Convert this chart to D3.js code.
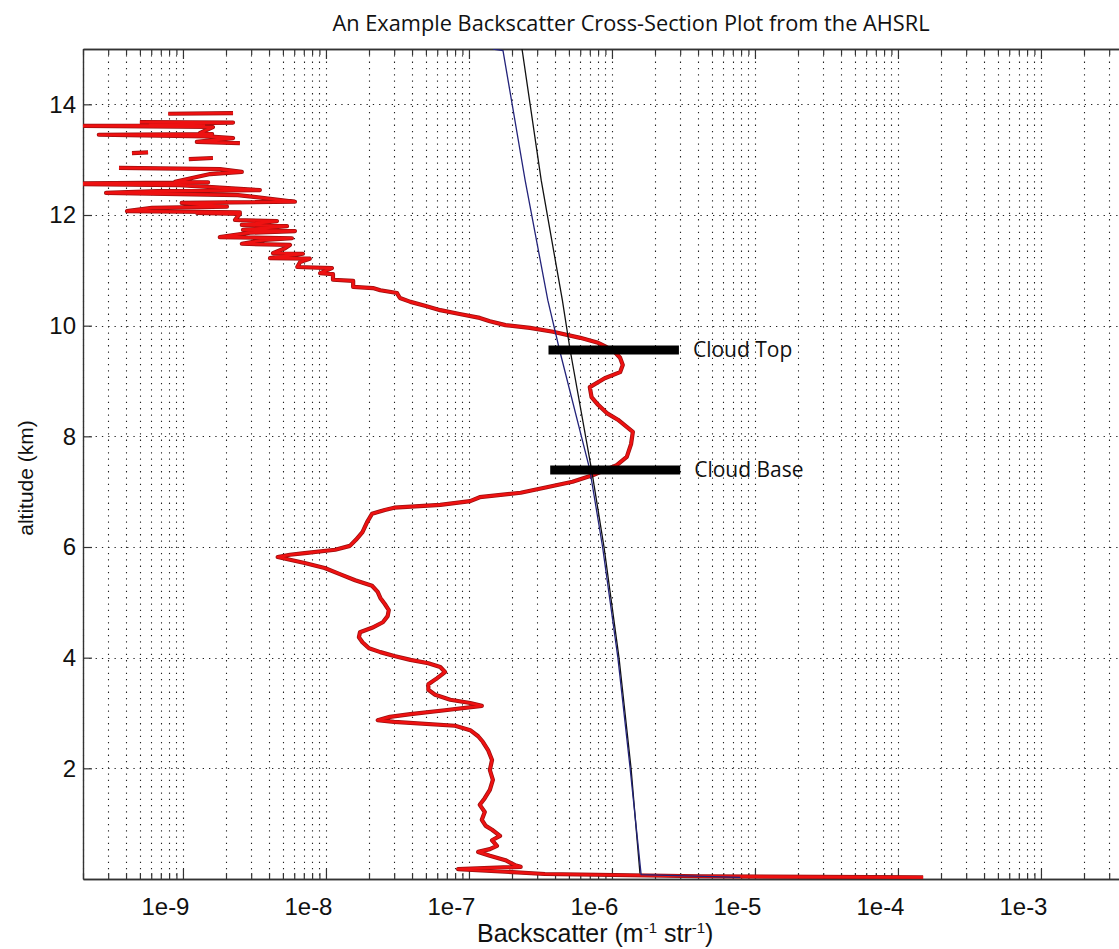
<!DOCTYPE html>
<html><head><meta charset="utf-8">
<script src="https://cdn.jsdelivr.net/npm/d3@7"></script>
<style>
body{margin:0;background:#fff;}
svg{display:block;background:#fff;}
</style></head>
<body>
<script>
// ---------- data ----------
const titleText = "An Example Backscatter Cross-Section Plot from the AHSRL";
const yLabelText = "altitude (km)";
const xTickValues = [1e-9, 1e-8, 1e-7, 1e-6, 1e-5, 1e-4, 1e-3];
const xTickLabels = ["1e-9", "1e-8", "1e-7", "1e-6", "1e-5", "1e-4", "1e-3"];
const yTickValues = [2, 4, 6, 8, 10, 12, 14];
const xDomain = [2e-10, 1e-2];
const yDomain = [0, 15];

// measured backscatter profile, lower part: [altitude km, backscatter m^-1 sr^-1]
const redLower = [
 [0.03,1.5e-4],[0.05,4.1e-6],[0.09,3.4e-7],[0.18,8.4e-8],[0.22,2.3e-7],[0.25,2.1e-7],[0.34,1.8e-7],
 [0.42,1.4e-7],[0.49,1.16e-7],[0.54,1.4e-7],[0.60,1.57e-7],[0.70,1.45e-7],[0.78,1.65e-7],[0.89,1.45e-7],
 [0.96,1.31e-7],[1.07,1.23e-7],[1.21,1.29e-7],[1.34,1.19e-7],[1.46,1.29e-7],[1.61,1.4e-7],[1.79,1.47e-7],
 [1.97,1.4e-7],[2.15,1.45e-7],[2.33,1.36e-7],[2.48,1.25e-7],[2.58,1.16e-7],[2.69,1.02e-7],[2.77,8.0e-8],
 [2.84,3.0e-8],[2.87,2.3e-8],[2.93,2.8e-8],[2.98,3.9e-8],[3.05,6.8e-8],[3.13,1.23e-7],[3.18,1.02e-7],
 [3.24,7.4e-8],[3.33,5.8e-8],[3.42,5.2e-8],[3.52,5.2e-8],[3.63,6.0e-8],[3.74,6.8e-8],[3.83,6.3e-8],
 [3.90,5.2e-8],[3.96,3.9e-8],[4.03,3.0e-8],[4.10,2.4e-8],[4.17,2.0e-8],[4.28,1.8e-8],[4.37,1.7e-8],
 [4.46,1.73e-8],[4.54,2.1e-8],[4.64,2.5e-8],[4.75,2.7e-8],[4.86,2.75e-8],[4.97,2.58e-8],[5.08,2.4e-8],
 [5.19,2.3e-8],[5.30,2.1e-8],[5.40,1.6e-8],[5.51,1.25e-8],[5.62,9.8e-9],[5.71,7.1e-9],[5.77,5.6e-9],
 [5.82,4.6e-9],[5.86,5.6e-9],[5.89,7.1e-9],[5.95,1.16e-8],[6.02,1.47e-8],[6.13,1.62e-8],[6.27,1.8e-8],
 [6.45,1.94e-8],[6.60,2.1e-8],[6.67,2.58e-8],[6.71,3.0e-8],[6.76,6.3e-8],[6.83,1.02e-7],[6.90,1.19e-7],
 [6.98,2.3e-7],[7.08,3.5e-7],[7.18,5.3e-7],[7.30,7.4e-7],[7.39,8.9e-7],[7.48,1.08e-6],[7.63,1.27e-6],
 [7.86,1.36e-6],[8.08,1.40e-6],[8.30,1.10e-6],[8.42,9.2e-7],[8.57,8.0e-7],[8.71,7.2e-7],[8.89,7.0e-7],
 [9.05,8.9e-7],[9.16,1.14e-6],[9.29,1.19e-6],[9.42,1.14e-6],[9.52,1.05e-6],[9.63,8.9e-7],[9.69,8.0e-7],
 [9.78,6.0e-7],[9.89,3.87e-7],[9.96,2.67e-7],[10.01,1.8e-7],[10.08,1.4e-7],[10.14,1.19e-7],[10.21,8.6e-8],
 [10.28,6.3e-8],[10.36,4.92e-8],[10.43,3.9e-8],[10.50,3.29e-8],[10.55,3.2e-8],[10.59,3.14e-8]
];
// measured backscatter profile, noisy upper part (null = missing sample)
const redUpper = [
 [10.59,3.14e-8],[10.64,2.4e-8],[10.68,2.13e-8],[10.70,1.55e-8],[10.81,1.55e-8],[10.83,1.12e-8],[10.93,1.12e-8],
 [10.95,9.1e-9],[11.04,1.1e-8],[11.06,6.3e-9],[11.15,6.6e-9],[11.21,7.7e-9],[11.22,4.06e-9],[11.30,6.9e-9],
 [11.31,4.26e-9],[11.40,5.17e-9],[11.46,5.6e-9],[11.48,2.58e-9],[11.55,3.74e-9],[11.58,5.78e-9],[11.60,1.81e-9],
 [11.68,2.94e-9],[11.71,6.07e-9],[11.73,2.63e-9],[11.80,5.34e-9],[11.82,2.58e-9],[11.89,4.54e-9],[11.91,2.31e-9],
 [12.02,2.5e-9],[12.04,1.25e-9],[12.05,2.5e-9],[12.07,4.06e-10],[12.13,6.07e-10],[12.15,2.03e-9],[12.22,9.8e-10],
 [12.24,6.07e-9],[12.36,2.42e-9],[12.40,2.9e-10],[12.43,6.68e-10],[12.45,3.45e-9],[12.54,9.5e-10],[12.56,1.62e-10],
 [12.57,1.9e-10],[12.59,1.5e-9],[12.60,8.8e-10],[12.74,1.55e-9],[12.78,2.58e-9],[12.83,1.81e-9],[12.85,3.57e-10],
 [12.90,null],[13.01,1.10e-9],[13.03,1.62e-9],[13.08,null],[13.12,4.4e-10],[13.13,5.7e-10],[13.20,null],
 [13.30,2.5e-9],[13.32,1.25e-9],[13.39,2.24e-9],[13.42,1.47e-9],[13.45,2.58e-10],[13.46,1.6e-9],[13.48,1.31e-9],
 [13.59,1.62e-9],[13.61,1.6e-10],[13.62,1.4e-9],[13.65,5.9e-10],[13.67,2.24e-9],[13.68,5.0e-10],[13.75,null],
 [13.83,7.9e-10],[13.84,2.24e-9]
];
// modelled molecular backscatter profiles
const blackAlt  = [0.1, 2, 4, 6, 7.4, 9.56, 10.46, 12.63, 15];
const blackBeta = [1.57e-6, 1.36e-6, 1.12e-6, 8.8e-7, 7.2e-7, 5.1e-7, 4.5e-7, 3.2e-7, 2.35e-7];
const blueAlt   = [0.03, 0.08, 2, 4, 6, 7.4, 9.56, 10.46, 12.63, 14.97, 15];
const blueBeta  = [7.9e-6, 1.6e-6, 1.34e-6, 1.1e-6, 8.6e-7, 7.0e-7, 4.3e-7, 3.56e-7, 2.47e-7, 1.73e-7, 1.47e-7];
// cloud markers
const cloudNames = ["Cloud Top", "Cloud Base"];
const cloudAlt   = [9.56, 7.39];
const cloudFrom  = [3.6e-7, 3.7e-7];
const cloudTo    = [2.94e-6, 3.0e-6];

// ---------- layout ----------
const W = 1119, H = 949;
const mLeft = 83, mTop = 49, mBottom = 879;
const pxPerDecade = 143;
const mRight = mLeft + pxPerDecade * Math.log10(xDomain[1] / xDomain[0]);

const svg = d3.select("body").append("svg").attr("width", W).attr("height", H);

const x = d3.scaleLog().domain(xDomain).range([mLeft, mRight]);
const y = d3.scaleLinear().domain(yDomain).range([mBottom, mTop]);

svg.append("defs").append("clipPath").attr("id", "clip")
  .append("rect").attr("x", mLeft).attr("y", mTop).attr("width", mRight - mLeft).attr("height", mBottom - mTop);

// grid
const allTicks = x.ticks();
const grid = svg.append("g").attr("stroke", "#222").attr("stroke-width", 1.1)
  .attr("stroke-dasharray", "1.3,5");
grid.selectAll(".vg").data(allTicks).enter().append("line")
  .attr("x1", d => Math.round(x(d)) + 0.5).attr("x2", d => Math.round(x(d)) + 0.5)
  .attr("y1", mTop).attr("y2", mBottom);
grid.selectAll(".hg").data(yTickValues).enter().append("line")
  .attr("x1", mLeft).attr("x2", mRight)
  .attr("y1", d => Math.round(y(d)) + 0.5).attr("y2", d => Math.round(y(d)) + 0.5);

// axes
const minorTicks = allTicks.filter(t => !xTickValues.some(m => Math.abs(Math.log10(m) - Math.log10(t)) < 1e-6));
const axisColor = "#333";
function styleAxis(g){
  g.selectAll(".domain").attr("stroke", axisColor).attr("stroke-width", 1.4);
  g.selectAll(".tick line").attr("stroke", axisColor).attr("stroke-width", 1.2);
}
const xMajor = svg.append("g").attr("transform", `translate(0,${mBottom})`)
  .call(d3.axisBottom(x).tickValues(xTickValues).tickSize(-10).tickSizeOuter(0).tickPadding(19)
    .tickFormat((d, i) => xTickLabels[i]));
xMajor.selectAll("text").attr("dx", -18).attr("fill", "#111")
  .style("font-family", "'Liberation Sans', Arial, sans-serif").style("font-size", "24px");
styleAxis(xMajor);
const xMinor = svg.append("g").attr("transform", `translate(0,${mBottom})`)
  .call(d3.axisBottom(x).tickValues(minorTicks).tickSize(-6).tickSizeOuter(0).tickFormat(""));
styleAxis(xMinor);
const xTopMajor = svg.append("g").attr("transform", `translate(0,${mTop})`)
  .call(d3.axisTop(x).tickValues(xTickValues).tickSize(-10).tickSizeOuter(0).tickFormat(""));
styleAxis(xTopMajor);
const xTopMinor = svg.append("g").attr("transform", `translate(0,${mTop})`)
  .call(d3.axisTop(x).tickValues(minorTicks).tickSize(-6).tickSizeOuter(0).tickFormat(""));
styleAxis(xTopMinor);
const yAx = svg.append("g").attr("transform", `translate(${mLeft},0)`)
  .call(d3.axisLeft(y).tickValues(yTickValues).tickSize(-9).tickSizeOuter(0).tickPadding(7));
yAx.selectAll("text").attr("fill", "#111")
  .style("font-family", "'Liberation Sans', Arial, sans-serif").style("font-size", "24px");
styleAxis(yAx);

// plot lines
const plot = svg.append("g").attr("clip-path", "url(#clip)");
const lineFn = d3.line().defined(d => d[1] != null).x(d => x(d[1])).y(d => y(d[0]));
const redAll = redLower.concat(redUpper.slice(1));
plot.append("path").datum(redAll).attr("d", lineFn)
  .attr("fill", "none").attr("stroke", "#9a0f0f").attr("stroke-width", 4.2).attr("stroke-linejoin", "round");
plot.append("path").datum(redAll).attr("d", lineFn)
  .attr("fill", "none").attr("stroke", "#ee1111").attr("stroke-width", 2.7).attr("stroke-linejoin", "round");

plot.append("path").datum(blackAlt.map((a, i) => [a, blackBeta[i]])).attr("d", lineFn)
  .attr("fill", "none").attr("stroke", "#111").attr("stroke-width", 1.3);
plot.append("path").datum(blueAlt.map((a, i) => [a, blueBeta[i]])).attr("d", lineFn)
  .attr("fill", "none").attr("stroke", "#23237a").attr("stroke-width", 1.3);

// cloud markers
cloudNames.forEach((name, i) => {
  svg.append("line")
    .attr("x1", x(cloudFrom[i])).attr("x2", x(cloudTo[i]))
    .attr("y1", y(cloudAlt[i])).attr("y2", y(cloudAlt[i]))
    .attr("stroke", "#000").attr("stroke-width", 9);
  svg.append("text").attr("x", x(cloudTo[i]) + 14).attr("y", y(cloudAlt[i]) + 7)
    .style("font-family", "'Open Sans', sans-serif").style("font-size", "21px")
    .attr("fill", "#111").text(name);
});

// title & labels
svg.append("text").attr("x", 631).attr("y", 31).attr("text-anchor", "middle")
  .style("font-family", "'Open Sans', sans-serif").style("font-size", "21px")
  .attr("textLength", 597).attr("lengthAdjust", "spacingAndGlyphs")
  .attr("fill", "#111").text(titleText);

const xl = svg.append("text").attr("x", 477).attr("y", 942)
  .style("font-family", "'Liberation Sans', Arial, sans-serif").style("font-size", "25px").attr("fill", "#111");
xl.append("tspan").text("Backscatter (m");
xl.append("tspan").attr("dy", -9).style("font-size", "15px").text("-1");
xl.append("tspan").attr("dy", 9).text(" str");
xl.append("tspan").attr("dy", -9).style("font-size", "15px").text("-1");
xl.append("tspan").attr("dy", 9).text(")");

svg.append("text").attr("transform", `translate(33,478) rotate(-90)`).attr("text-anchor", "middle")
  .style("font-family", "'Liberation Sans', Arial, sans-serif").style("font-size", "21px")
  .attr("fill", "#111").text(yLabelText);
</script>
</body></html>
